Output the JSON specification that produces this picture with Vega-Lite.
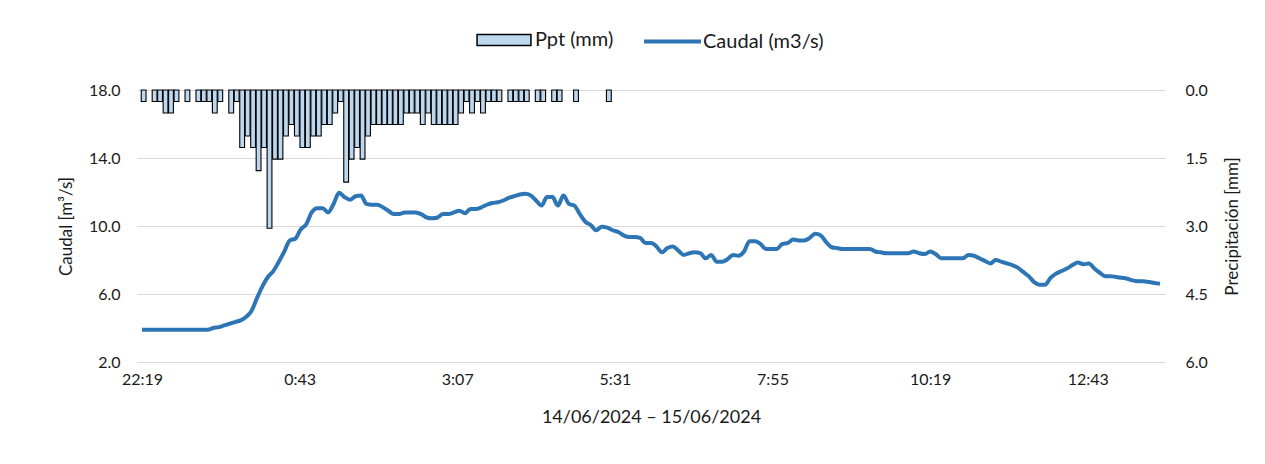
{
  "$schema": "https://vega.github.io/schema/vega-lite/v6.json",
  "autosize": {"type": "none"},
  "width": 1028,
  "height": 272,
  "padding": {"left": 137, "top": 90, "right": 100, "bottom": 102},
  "background": "white",
  "config": {
    "view": {"stroke": null},
    "font": "Lato",
    "axis": {"labelFont": "Lato", "titleFont": "Lato", "labelColor": "#1a1a1a", "titleColor": "#1a1a1a", "titleFontWeight": "normal", "ticks": false, "domain": false},
    "legend": {"labelFont": "Lato", "labelColor": "#1a1a1a"}
  },
  "datasets": {
    "rain": [
      {"t": "2024-06-14T22:20:30", "ppt": 0.254},
      {"t": "2024-06-14T22:30:30", "ppt": 0.254},
      {"t": "2024-06-14T22:35:30", "ppt": 0.254},
      {"t": "2024-06-14T22:40:30", "ppt": 0.508},
      {"t": "2024-06-14T22:45:30", "ppt": 0.508},
      {"t": "2024-06-14T22:50:30", "ppt": 0.254},
      {"t": "2024-06-14T23:00:30", "ppt": 0.254},
      {"t": "2024-06-14T23:10:30", "ppt": 0.254},
      {"t": "2024-06-14T23:15:30", "ppt": 0.254},
      {"t": "2024-06-14T23:20:30", "ppt": 0.254},
      {"t": "2024-06-14T23:25:30", "ppt": 0.508},
      {"t": "2024-06-14T23:30:30", "ppt": 0.254},
      {"t": "2024-06-14T23:40:30", "ppt": 0.508},
      {"t": "2024-06-14T23:45:30", "ppt": 0.254},
      {"t": "2024-06-14T23:50:30", "ppt": 1.27},
      {"t": "2024-06-14T23:55:30", "ppt": 1.016},
      {"t": "2024-06-15T00:00:30", "ppt": 1.27},
      {"t": "2024-06-15T00:05:30", "ppt": 1.778},
      {"t": "2024-06-15T00:10:30", "ppt": 1.27},
      {"t": "2024-06-15T00:15:30", "ppt": 3.048},
      {"t": "2024-06-15T00:20:30", "ppt": 1.524},
      {"t": "2024-06-15T00:25:30", "ppt": 1.524},
      {"t": "2024-06-15T00:30:30", "ppt": 1.016},
      {"t": "2024-06-15T00:35:30", "ppt": 0.762},
      {"t": "2024-06-15T00:40:30", "ppt": 1.016},
      {"t": "2024-06-15T00:45:30", "ppt": 1.27},
      {"t": "2024-06-15T00:50:30", "ppt": 1.27},
      {"t": "2024-06-15T00:55:30", "ppt": 1.016},
      {"t": "2024-06-15T01:00:30", "ppt": 1.016},
      {"t": "2024-06-15T01:05:30", "ppt": 0.762},
      {"t": "2024-06-15T01:10:30", "ppt": 0.762},
      {"t": "2024-06-15T01:15:30", "ppt": 0.508},
      {"t": "2024-06-15T01:20:30", "ppt": 0.254},
      {"t": "2024-06-15T01:25:30", "ppt": 2.032},
      {"t": "2024-06-15T01:30:30", "ppt": 1.524},
      {"t": "2024-06-15T01:35:30", "ppt": 1.27},
      {"t": "2024-06-15T01:40:30", "ppt": 1.524},
      {"t": "2024-06-15T01:45:30", "ppt": 1.016},
      {"t": "2024-06-15T01:50:30", "ppt": 0.762},
      {"t": "2024-06-15T01:55:30", "ppt": 0.762},
      {"t": "2024-06-15T02:00:30", "ppt": 0.762},
      {"t": "2024-06-15T02:05:30", "ppt": 0.762},
      {"t": "2024-06-15T02:10:30", "ppt": 0.762},
      {"t": "2024-06-15T02:15:30", "ppt": 0.762},
      {"t": "2024-06-15T02:20:30", "ppt": 0.508},
      {"t": "2024-06-15T02:25:30", "ppt": 0.508},
      {"t": "2024-06-15T02:30:30", "ppt": 0.508},
      {"t": "2024-06-15T02:35:30", "ppt": 0.762},
      {"t": "2024-06-15T02:40:30", "ppt": 0.508},
      {"t": "2024-06-15T02:45:30", "ppt": 0.762},
      {"t": "2024-06-15T02:50:30", "ppt": 0.762},
      {"t": "2024-06-15T02:55:30", "ppt": 0.762},
      {"t": "2024-06-15T03:00:30", "ppt": 0.762},
      {"t": "2024-06-15T03:05:30", "ppt": 0.762},
      {"t": "2024-06-15T03:10:30", "ppt": 0.508},
      {"t": "2024-06-15T03:15:30", "ppt": 0.254},
      {"t": "2024-06-15T03:20:30", "ppt": 0.508},
      {"t": "2024-06-15T03:25:30", "ppt": 0.254},
      {"t": "2024-06-15T03:30:30", "ppt": 0.508},
      {"t": "2024-06-15T03:35:30", "ppt": 0.254},
      {"t": "2024-06-15T03:40:30", "ppt": 0.254},
      {"t": "2024-06-15T03:45:30", "ppt": 0.254},
      {"t": "2024-06-15T03:55:30", "ppt": 0.254},
      {"t": "2024-06-15T04:00:30", "ppt": 0.254},
      {"t": "2024-06-15T04:05:30", "ppt": 0.254},
      {"t": "2024-06-15T04:10:30", "ppt": 0.254},
      {"t": "2024-06-15T04:20:30", "ppt": 0.254},
      {"t": "2024-06-15T04:25:30", "ppt": 0.254},
      {"t": "2024-06-15T04:35:30", "ppt": 0.254},
      {"t": "2024-06-15T04:40:30", "ppt": 0.254},
      {"t": "2024-06-15T04:55:30", "ppt": 0.254},
      {"t": "2024-06-15T05:25:30", "ppt": 0.254}
    ],
    "flow": [
      {"t": "2024-06-14T22:19", "q": 3.9}, {"t": "2024-06-14T22:24", "q": 3.9}, {"t": "2024-06-14T22:29", "q": 3.9},
      {"t": "2024-06-14T22:34", "q": 3.9}, {"t": "2024-06-14T22:39", "q": 3.9}, {"t": "2024-06-14T22:44", "q": 3.9},
      {"t": "2024-06-14T22:49", "q": 3.9}, {"t": "2024-06-14T22:54", "q": 3.9}, {"t": "2024-06-14T22:59", "q": 3.9},
      {"t": "2024-06-14T23:04", "q": 3.9}, {"t": "2024-06-14T23:09", "q": 3.9}, {"t": "2024-06-14T23:14", "q": 3.9},
      {"t": "2024-06-14T23:19", "q": 3.9}, {"t": "2024-06-14T23:24", "q": 4.0}, {"t": "2024-06-14T23:29", "q": 4.05},
      {"t": "2024-06-14T23:34", "q": 4.15}, {"t": "2024-06-14T23:39", "q": 4.25}, {"t": "2024-06-14T23:44", "q": 4.35},
      {"t": "2024-06-14T23:49", "q": 4.45}, {"t": "2024-06-14T23:54", "q": 4.65}, {"t": "2024-06-14T23:59", "q": 5.0},
      {"t": "2024-06-15T00:04", "q": 5.75}, {"t": "2024-06-15T00:09", "q": 6.45}, {"t": "2024-06-15T00:14", "q": 7.0},
      {"t": "2024-06-15T00:19", "q": 7.35}, {"t": "2024-06-15T00:24", "q": 7.9}, {"t": "2024-06-15T00:29", "q": 8.5},
      {"t": "2024-06-15T00:34", "q": 9.15}, {"t": "2024-06-15T00:39", "q": 9.25}, {"t": "2024-06-15T00:44", "q": 9.8},
      {"t": "2024-06-15T00:49", "q": 10.1}, {"t": "2024-06-15T00:54", "q": 10.8}, {"t": "2024-06-15T00:59", "q": 11.05},
      {"t": "2024-06-15T01:04", "q": 11.05}, {"t": "2024-06-15T01:09", "q": 10.8}, {"t": "2024-06-15T01:14", "q": 11.3},
      {"t": "2024-06-15T01:19", "q": 11.95}, {"t": "2024-06-15T01:24", "q": 11.7}, {"t": "2024-06-15T01:29", "q": 11.55},
      {"t": "2024-06-15T01:34", "q": 11.75}, {"t": "2024-06-15T01:39", "q": 11.8}, {"t": "2024-06-15T01:44", "q": 11.3},
      {"t": "2024-06-15T01:49", "q": 11.25}, {"t": "2024-06-15T01:54", "q": 11.25}, {"t": "2024-06-15T01:59", "q": 11.1},
      {"t": "2024-06-15T02:04", "q": 10.9}, {"t": "2024-06-15T02:09", "q": 10.7}, {"t": "2024-06-15T02:14", "q": 10.7},
      {"t": "2024-06-15T02:19", "q": 10.8}, {"t": "2024-06-15T02:24", "q": 10.8}, {"t": "2024-06-15T02:29", "q": 10.8},
      {"t": "2024-06-15T02:34", "q": 10.7}, {"t": "2024-06-15T02:39", "q": 10.5}, {"t": "2024-06-15T02:44", "q": 10.45},
      {"t": "2024-06-15T02:49", "q": 10.5}, {"t": "2024-06-15T02:54", "q": 10.7}, {"t": "2024-06-15T02:59", "q": 10.7},
      {"t": "2024-06-15T03:04", "q": 10.8}, {"t": "2024-06-15T03:09", "q": 10.9}, {"t": "2024-06-15T03:14", "q": 10.75},
      {"t": "2024-06-15T03:19", "q": 11.0}, {"t": "2024-06-15T03:24", "q": 11.0}, {"t": "2024-06-15T03:29", "q": 11.1},
      {"t": "2024-06-15T03:34", "q": 11.25}, {"t": "2024-06-15T03:39", "q": 11.35}, {"t": "2024-06-15T03:44", "q": 11.4},
      {"t": "2024-06-15T03:49", "q": 11.5}, {"t": "2024-06-15T03:54", "q": 11.65}, {"t": "2024-06-15T03:59", "q": 11.75},
      {"t": "2024-06-15T04:04", "q": 11.85}, {"t": "2024-06-15T04:09", "q": 11.9}, {"t": "2024-06-15T04:14", "q": 11.8},
      {"t": "2024-06-15T04:19", "q": 11.5}, {"t": "2024-06-15T04:24", "q": 11.2}, {"t": "2024-06-15T04:29", "q": 11.7},
      {"t": "2024-06-15T04:34", "q": 11.7}, {"t": "2024-06-15T04:39", "q": 11.2}, {"t": "2024-06-15T04:44", "q": 11.8},
      {"t": "2024-06-15T04:49", "q": 11.3}, {"t": "2024-06-15T04:54", "q": 11.2}, {"t": "2024-06-15T04:59", "q": 10.7},
      {"t": "2024-06-15T05:04", "q": 10.25}, {"t": "2024-06-15T05:09", "q": 10.05}, {"t": "2024-06-15T05:14", "q": 9.75},
      {"t": "2024-06-15T05:19", "q": 9.95}, {"t": "2024-06-15T05:24", "q": 9.9}, {"t": "2024-06-15T05:29", "q": 9.75},
      {"t": "2024-06-15T05:34", "q": 9.65}, {"t": "2024-06-15T05:39", "q": 9.45}, {"t": "2024-06-15T05:44", "q": 9.35},
      {"t": "2024-06-15T05:49", "q": 9.35}, {"t": "2024-06-15T05:54", "q": 9.3}, {"t": "2024-06-15T05:59", "q": 9.0},
      {"t": "2024-06-15T06:04", "q": 9.0}, {"t": "2024-06-15T06:09", "q": 8.8}, {"t": "2024-06-15T06:14", "q": 8.45},
      {"t": "2024-06-15T06:19", "q": 8.7}, {"t": "2024-06-15T06:24", "q": 8.8}, {"t": "2024-06-15T06:29", "q": 8.55},
      {"t": "2024-06-15T06:34", "q": 8.3}, {"t": "2024-06-15T06:39", "q": 8.4}, {"t": "2024-06-15T06:44", "q": 8.45},
      {"t": "2024-06-15T06:49", "q": 8.4}, {"t": "2024-06-15T06:54", "q": 8.1}, {"t": "2024-06-15T06:59", "q": 8.3},
      {"t": "2024-06-15T07:04", "q": 7.9}, {"t": "2024-06-15T07:09", "q": 7.9}, {"t": "2024-06-15T07:14", "q": 8.05},
      {"t": "2024-06-15T07:19", "q": 8.3}, {"t": "2024-06-15T07:24", "q": 8.25}, {"t": "2024-06-15T07:29", "q": 8.5},
      {"t": "2024-06-15T07:34", "q": 9.1}, {"t": "2024-06-15T07:39", "q": 9.1}, {"t": "2024-06-15T07:44", "q": 8.95},
      {"t": "2024-06-15T07:49", "q": 8.65}, {"t": "2024-06-15T07:54", "q": 8.65}, {"t": "2024-06-15T07:59", "q": 8.65},
      {"t": "2024-06-15T08:04", "q": 8.95}, {"t": "2024-06-15T08:09", "q": 9.0}, {"t": "2024-06-15T08:14", "q": 9.2},
      {"t": "2024-06-15T08:19", "q": 9.15}, {"t": "2024-06-15T08:24", "q": 9.15}, {"t": "2024-06-15T08:29", "q": 9.3},
      {"t": "2024-06-15T08:34", "q": 9.55}, {"t": "2024-06-15T08:39", "q": 9.45}, {"t": "2024-06-15T08:44", "q": 9.05},
      {"t": "2024-06-15T08:49", "q": 8.75}, {"t": "2024-06-15T08:54", "q": 8.7}, {"t": "2024-06-15T08:59", "q": 8.65},
      {"t": "2024-06-15T09:04", "q": 8.65}, {"t": "2024-06-15T09:09", "q": 8.65}, {"t": "2024-06-15T09:14", "q": 8.65},
      {"t": "2024-06-15T09:19", "q": 8.65}, {"t": "2024-06-15T09:24", "q": 8.65}, {"t": "2024-06-15T09:29", "q": 8.5},
      {"t": "2024-06-15T09:34", "q": 8.45}, {"t": "2024-06-15T09:39", "q": 8.4}, {"t": "2024-06-15T09:44", "q": 8.4},
      {"t": "2024-06-15T09:49", "q": 8.4}, {"t": "2024-06-15T09:54", "q": 8.4}, {"t": "2024-06-15T09:59", "q": 8.4},
      {"t": "2024-06-15T10:04", "q": 8.5}, {"t": "2024-06-15T10:09", "q": 8.4}, {"t": "2024-06-15T10:14", "q": 8.35},
      {"t": "2024-06-15T10:19", "q": 8.5}, {"t": "2024-06-15T10:24", "q": 8.35}, {"t": "2024-06-15T10:29", "q": 8.1},
      {"t": "2024-06-15T10:34", "q": 8.1}, {"t": "2024-06-15T10:39", "q": 8.1}, {"t": "2024-06-15T10:44", "q": 8.1},
      {"t": "2024-06-15T10:49", "q": 8.1}, {"t": "2024-06-15T10:54", "q": 8.3}, {"t": "2024-06-15T10:59", "q": 8.25},
      {"t": "2024-06-15T11:04", "q": 8.1}, {"t": "2024-06-15T11:09", "q": 7.95}, {"t": "2024-06-15T11:14", "q": 7.8},
      {"t": "2024-06-15T11:19", "q": 8.0}, {"t": "2024-06-15T11:24", "q": 7.9}, {"t": "2024-06-15T11:29", "q": 7.8},
      {"t": "2024-06-15T11:34", "q": 7.7}, {"t": "2024-06-15T11:39", "q": 7.55}, {"t": "2024-06-15T11:44", "q": 7.3},
      {"t": "2024-06-15T11:49", "q": 7.05}, {"t": "2024-06-15T11:54", "q": 6.7}, {"t": "2024-06-15T11:59", "q": 6.55},
      {"t": "2024-06-15T12:04", "q": 6.55}, {"t": "2024-06-15T12:09", "q": 6.95}, {"t": "2024-06-15T12:14", "q": 7.2},
      {"t": "2024-06-15T12:19", "q": 7.35}, {"t": "2024-06-15T12:24", "q": 7.5}, {"t": "2024-06-15T12:29", "q": 7.7},
      {"t": "2024-06-15T12:34", "q": 7.85}, {"t": "2024-06-15T12:39", "q": 7.75}, {"t": "2024-06-15T12:44", "q": 7.8},
      {"t": "2024-06-15T12:49", "q": 7.5}, {"t": "2024-06-15T12:54", "q": 7.25}, {"t": "2024-06-15T12:59", "q": 7.05},
      {"t": "2024-06-15T13:04", "q": 7.05}, {"t": "2024-06-15T13:09", "q": 7.0}, {"t": "2024-06-15T13:14", "q": 6.95},
      {"t": "2024-06-15T13:19", "q": 6.9}, {"t": "2024-06-15T13:24", "q": 6.8}, {"t": "2024-06-15T13:29", "q": 6.75},
      {"t": "2024-06-15T13:34", "q": 6.75}, {"t": "2024-06-15T13:39", "q": 6.7}, {"t": "2024-06-15T13:44", "q": 6.65},
      {"t": "2024-06-15T13:49", "q": 6.6}
    ]
  },
  "encoding": {
    "x": {
      "field": "t",
      "type": "temporal",
      "scale": {"domain": [
        {"year": 2024, "month": 6, "date": 14, "hours": 22, "minutes": 19},
        {"year": 2024, "month": 6, "date": 15, "hours": 13, "minutes": 49}
      ]},
      "axis": {
        "title": "14/06/2024 – 15/06/2024",
        "values": [
          {"year": 2024, "month": 6, "date": 14, "hours": 22, "minutes": 19},
          {"year": 2024, "month": 6, "date": 15, "hours": 0, "minutes": 43},
          {"year": 2024, "month": 6, "date": 15, "hours": 3, "minutes": 7},
          {"year": 2024, "month": 6, "date": 15, "hours": 5, "minutes": 31},
          {"year": 2024, "month": 6, "date": 15, "hours": 7, "minutes": 55},
          {"year": 2024, "month": 6, "date": 15, "hours": 10, "minutes": 19},
          {"year": 2024, "month": 6, "date": 15, "hours": 12, "minutes": 43}
        ],
        "format": "%-H:%M",
        "grid": false,
        "labelFontSize": 16,
        "labelPadding": 9,
        "labelFlush": false,
        "titleFontSize": 18,
        "titlePadding": 21
      }
    }
  },
  "layer": [
    {
      "data": {"name": "rain"},
      "mark": {"type": "bar", "size": 4.8, "stroke": "#000000", "strokeWidth": 1.1},
      "encoding": {
        "y": {
          "field": "ppt",
          "type": "quantitative",
          "scale": {"domain": [0, 6], "reverse": true, "nice": false, "zero": true},
          "axis": {
            "orient": "right",
            "title": "Precipitación [mm]",
            "values": [0, 1.5, 3, 4.5, 6],
            "format": ".1f",
            "grid": false,
            "labelFontSize": 16,
            "labelPadding": 20,
            "titleFontSize": 17,
            "titleAngle": 270,
            "titleAlign": "center",
            "titleBaseline": "middle",
            "titleX": 67,
            "titleY": 136
          }
        },
        "fill": {
          "datum": "Ppt (mm)",
          "scale": {"range": ["#BDD7EE"]},
          "legend": {
            "orient": "none",
            "legendX": 355,
            "legendY": -62,
            "title": null,
            "symbolType": "M-2.45,-0.5H2.45V0.5H-2.45Z",
            "symbolSize": 484,
            "symbolStrokeColor": "#000000",
            "symbolStrokeWidth": 1.5,
            "symbolOpacity": 1,
            "labelFontSize": 20,
            "labelOffset": 19
          }
        }
      }
    },
    {
      "data": {"name": "flow"},
      "mark": {"type": "line", "interpolate": "monotone", "strokeWidth": 4},
      "encoding": {
        "y": {
          "field": "q",
          "type": "quantitative",
          "scale": {"domain": [2, 18], "nice": false, "zero": false},
          "axis": {
            "orient": "left",
            "title": "Caudal [m³/s]",
            "values": [2, 6, 10, 14, 18],
            "format": ".1f",
            "grid": true,
            "gridColor": "#d9d9d9",
            "gridWidth": 1.2,
            "labelFontSize": 16,
            "labelPadding": 17,
            "titleFontSize": 17,
            "titlePadding": 13
          }
        },
        "stroke": {
          "datum": "Caudal (m3/s)",
          "scale": {"range": ["#2E75B6"]},
          "legend": {
            "orient": "none",
            "legendX": 505,
            "legendY": -79,
            "title": null,
            "symbolType": "M-1,0H1",
            "symbolSize": 3249,
            "symbolStrokeWidth": 4,
            "labelFontSize": 20,
            "labelOffset": 0
          }
        }
      }
    }
  ],
  "resolve": {"scale": {"y": "independent"}}
}
